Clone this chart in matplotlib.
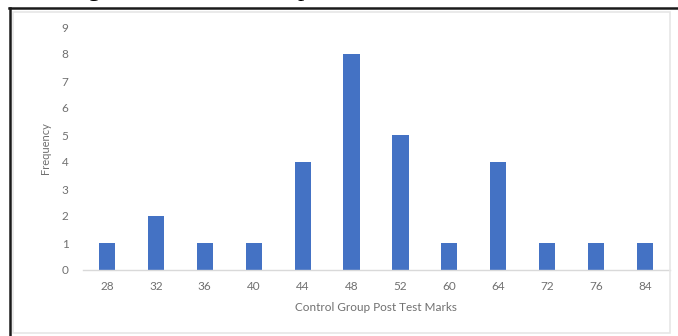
import numpy as np
import matplotlib.pyplot as plt
from matplotlib.patches import Rectangle
from matplotlib.lines import Line2D

marks = ["28", "32", "36", "40", "44", "48", "52", "60", "64", "72", "76", "84"]
frequency = [1, 2, 1, 1, 4, 8, 5, 1, 4, 1, 1, 1]

W, H = 678, 336
plt.rcParams['font.family'] = ['Lato', 'DejaVu Sans']

fig = plt.figure(figsize=(W / 100, H / 100), dpi=100)
fig.patch.set_facecolor('white')


def fx(px):
    return px / W


def fy(py):
    return 1 - py / H


# chart frame: dark outer border (top and left) and light inner border
fig.add_artist(Line2D([fx(9), fx(678)], [fy(8), fy(8)], color='#1a1a1a', lw=1.8))
fig.add_artist(Line2D([fx(10), fx(10)], [fy(8), fy(336)], color='#1a1a1a', lw=1.8))
fig.add_artist(Rectangle((fx(13), fy(333)), fx(670) - fx(13), fy(12) - fy(333),
                         fill=False, edgecolor='#e6e6e6', lw=1.2))

# descenders of the caption line running off the top edge
fig.text(fx(88), fy(-4), "g", family='Liberation Serif', fontsize=18,
         va='baseline', color='black')
fig.text(fx(298), fy(-4), "p", family='Liberation Serif', fontsize=18,
         va='baseline', color='black')

ax = fig.add_axes([fx(82.5), fy(270), fx(669.5) - fx(82.5), fy(27) - fy(270)])
x = np.arange(len(marks))
ax.bar(x, frequency, width=0.33, color='#4472C4')
ax.set_xlim(-0.5, len(marks) - 0.5)
ax.set_ylim(0, 9)
ax.set_yticks(range(10))
ax.set_xticks(x)
ax.set_xticklabels(marks)
for s in ['top', 'right', 'left']:
    ax.spines[s].set_visible(False)
ax.spines['bottom'].set_color('#d9d9d9')
ax.spines['bottom'].set_linewidth(1.0)
ax.tick_params(axis='both', length=0, labelsize=8.5, colors='#707070')
ax.tick_params(axis='y', pad=10)
ax.tick_params(axis='x', pad=8)
ax.set_ylabel("Frequency", fontsize=8, color='#707070', labelpad=8)
ax.set_xlabel("Control Group Post Test Marks", fontsize=8.5, color='#707070',
              labelpad=7)

fig.savefig("out.png", dpi=100)
